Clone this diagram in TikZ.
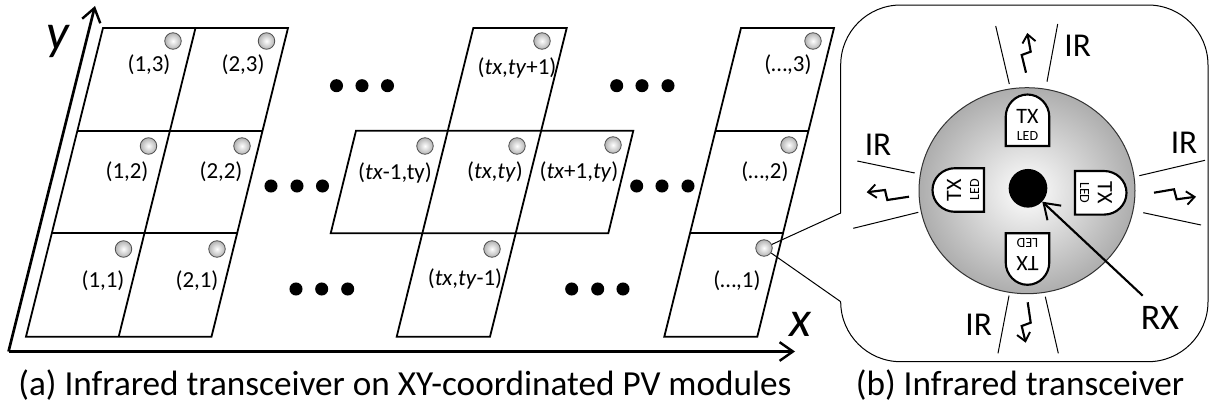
\documentclass[tikz,border=0pt]{standalone}
\usepackage{amsmath, amssymb}
\usepackage{fontspec}
\setmainfont{Carlito}
\usetikzlibrary{arrows.meta,shapes.geometric}
\tikzset{
  panel/.style={line width=1.35pt},
  axis/.style={line width=2pt,-{Straight Barb[length=10pt,width=14pt,line width=1.8pt]}},
  beam/.style={line width=0.75pt},
  zigzag/.style={line width=1.6pt,-{Straight Barb[length=6pt,width=10pt,line width=1.4pt]}},
  led/.style={circle,draw=black!70,line width=0.6pt,inner sep=0pt,minimum size=16.5pt*0.75,inner color=white,outer color=black!30},
  bigdot/.style={circle,fill=black,inner sep=0pt,minimum size=9.8pt},
  coord/.style={inner sep=0pt,font=\fontsize{17.2}{20}\selectfont},
  irlabel/.style={inner sep=0pt,font=\fontsize{25}{28}\selectfont},
  caption/.style={inner sep=0pt,font=\fontsize{26.4}{30}\selectfont}
}
% one arched TX window: base on the given point, arch pointing along the angle
\newcommand{\txwindow}[4]{%
  \begin{scope}[shift={(#1,#2)},rotate=#3]
    \draw [fill=white,line width=1.6pt] (-21.8,0) -- (-21.8,-29) arc[start angle=180,end angle=0,x radius=21.8,y radius=-22.5] -- (21.8,0) -- cycle ;
    \node (tx#4) [inner sep=0pt,rotate=-#3,font=\fontsize{16.5}{18}\selectfont] at (0,-30) {TX};
    \node (led#4) [inner sep=0pt,rotate=-#3,font=\fontsize{10.5}{12}\selectfont] at (0,-9.5) {LED};
  \end{scope}}

\begin{document}
\begin{tikzpicture}[x=0.75pt,y=0.75pt,yscale=-1,xscale=1]
\useasboundingbox (0,0) rectangle (1211,407);

%Axes
\coordinate (origin) at (8.5,351.5);
\coordinate (ytip) at (95,6);
\coordinate (xtip) at (795,351.5);
\draw [axis] (origin) -- (ytip) ;
\draw [axis] (origin) -- (xtip) ;

%Panels, first two columns
\draw [panel] (103,28) -- (288,28) -- (211.5,336.7) -- (26,336.7) -- cycle ;
\draw [panel] (195.5,28) -- (118.7,336.7) ;
\draw [panel] (77.5,130.7) -- (262.5,130.7) ;
\draw [panel] (52,233.3) -- (237,233.3) ;
%Panels, cross
\draw [panel] (473.3,28) -- (566.7,28) -- (490,336.7) -- (396.7,336.7) -- cycle ;
\draw [panel] (356,130.7) -- (633.3,130.7) -- (608.3,233.3) -- (330.7,233.3) -- cycle ;
%Panels, last column
\draw [panel] (741,28) -- (834,28) -- (757.3,336.7) -- (664.3,336.7) -- cycle ;
\draw [panel] (716,130.7) -- (808.5,130.7) ;
\draw [panel] (690,233.3) -- (783,233.3) ;

%Callout
\coordinate (calloutup) at (840.7,213);
\coordinate (calloutdown) at (840.7,301.7);
\draw [line width=0.75pt,fill=white] (calloutup) -- (840.7,65) arc[start angle=180,end angle=90,x radius=60,y radius=-60] -- (1148,5) arc[start angle=90,end angle=0,x radius=60,y radius=-60] -- (1208,301.7) arc[start angle=0,end angle=-90,x radius=60,y radius=-60] -- (900.7,361.7) arc[start angle=-90,end angle=-180,x radius=60,y radius=-60] -- (calloutdown) ;

%Transceiver LEDs
\node (l13) [led] at (173,41) {};
\node (l23) [led] at (266.5,41) {};
\node (l12) [led] at (148.5,146) {};
\node (l22) [led] at (242,146) {};
\node (l11) [led] at (123.5,249) {};
\node (l21) [led] at (217,249) {};
\node (ltop) [led] at (542,41) {};
\node (lleft) [led] at (425,146) {};
\node (lmid) [led] at (517,146) {};
\node (lright) [led] at (613,145) {};
\node (lbottom) [led] at (492,249) {};
\node (ln3) [led] at (813,41) {};
\node (ln2) [led] at (789,145) {};
\node (ln1) [led] at (764,248) {};
\draw [beam] (ln1) -- (calloutup) ;
\draw [beam] (ln1) -- (calloutdown) ;

%Dots
\node (d1) [bigdot] at (336.5,85.7) {};
\node (d2) [bigdot] at (362,85.7) {};
\node (d3) [bigdot] at (387.5,85.7) {};
\node (d4) [bigdot] at (271,186) {};
\node (d5) [bigdot] at (297,186) {};
\node (d6) [bigdot] at (322.5,186) {};
\node (d7) [bigdot] at (296,289) {};
\node (d8) [bigdot] at (321.7,289) {};
\node (d9) [bigdot] at (347.7,289) {};
\node (d10) [bigdot] at (616.7,85.7) {};
\node (d11) [bigdot] at (642,85.7) {};
\node (d12) [bigdot] at (668,85.7) {};
\node (d13) [bigdot] at (636.7,186) {};
\node (d14) [bigdot] at (662,186) {};
\node (d15) [bigdot] at (688,186) {};
\node (d16) [bigdot] at (571.7,289) {};
\node (d17) [bigdot] at (597.7,289) {};
\node (d18) [bigdot] at (623,289) {};

%Transceiver body
\node (body) [ellipse,draw=black!80,line width=0.75pt,minimum width=162pt,minimum height=154.5pt,inner sep=0pt,inner color=white,outer color=black!32] at (1027,190.7) {};
\txwindow{1027.5}{146}{0}{n}
\txwindow{1075}{192.8}{90}{e}
\txwindow{1027.5}{233.3}{180}{s}
\txwindow{984}{190}{-90}{w}
\node (rxdot) [circle,fill=black,inner sep=0pt,minimum size=29pt] at (1028,188.3) {};

%IR beams
\draw [beam] (995.7,26) -- (1009.3,84) ;
\draw [beam] (1057.7,24) -- (1047,81.7) ;
\draw [beam] (1009,295.7) -- (998,353.3) ;
\draw [beam] (1045.3,296.7) -- (1058.3,353.3) ;
\draw [beam] (857.3,161) -- (914.7,173) ;
\draw [beam] (853.3,228.3) -- (918.3,212.3) ;
\draw [beam] (1139.3,175.7) -- (1205,160.3) ;
\draw [beam] (1143.3,212.7) -- (1201,225) ;
\draw [zigzag] (1026,72.7) -- (1021.7,55) -- (1030.7,51.7) -- (1027.3,33) ;
\draw [zigzag] (1027.7,302.3) -- (1030.7,322.7) -- (1021.7,326) -- (1025.7,342.7) ;
\draw [zigzag] (909,196.7) -- (887.3,200) -- (885,190) -- (866.7,192.3) ;
\draw [zigzag] (1154,192.7) -- (1174,189.3) -- (1176.7,199.3) -- (1196,196.7) ;

% Text Node
\node (c13) [coord] at (149,65) {(1,3)};
\node (c23) [coord] at (243,65) {(2,3)};
\node (c12) [coord] at (127,172) {(1,2)};
\node (c22) [coord] at (221,172) {(2,2)};
\node (c11) [coord] at (103,281) {(1,1)};
\node (c21) [coord] at (197,281) {(2,1)};
\node (ctop) [coord] at (517,68) {(\textit{tx},\textit{ty}+1)};
\node (cleft) [coord] at (395,173) {(\textit{tx}-1,ty)};
\node (cmid) [coord] at (495,172) {(\textit{tx},\textit{ty})};
\node (cright) [coord] at (579,172) {(\textit{tx}+1,\textit{ty})};
\node (cbottom) [coord] at (465,279) {(\textit{tx},\textit{ty}-1)};
\node (cn3) [coord] at (788,65) {(…,3)};
\node (cn2) [coord] at (765,172) {(…,2)};
\node (cn1) [coord] at (737,281) {(…,1)};
\node (ylabel) [inner sep=0pt,font=\fontsize{38}{40}\selectfont\itshape] at (58,41) {y};
\node (xlabel) [inner sep=0pt,font=\fontsize{38}{40}\selectfont\itshape] at (800,324) {x};
\node (irn) [irlabel] at (1077.7,45.7) {IR};
\node (irw) [irlabel] at (878,145) {IR};
\node (ire) [irlabel] at (1184,143) {IR};
\node (irs) [irlabel] at (978.7,325) {IR};
\node (rx) [inner sep=0pt,font=\fontsize{27}{30}\selectfont] at (1160,318) {RX};
\draw [line width=1.6pt,-{Straight Barb[length=11pt,width=15pt,line width=1.5pt]}] (1142.7,295.7) -- (rxdot) ;
\node (capa) [caption] at (405,385) {(a) Infrared transceiver on XY-coordinated PV modules};
\node (capb) [caption] at (1020,385) {(b) Infrared transceiver};
\end{tikzpicture}
\end{document}
